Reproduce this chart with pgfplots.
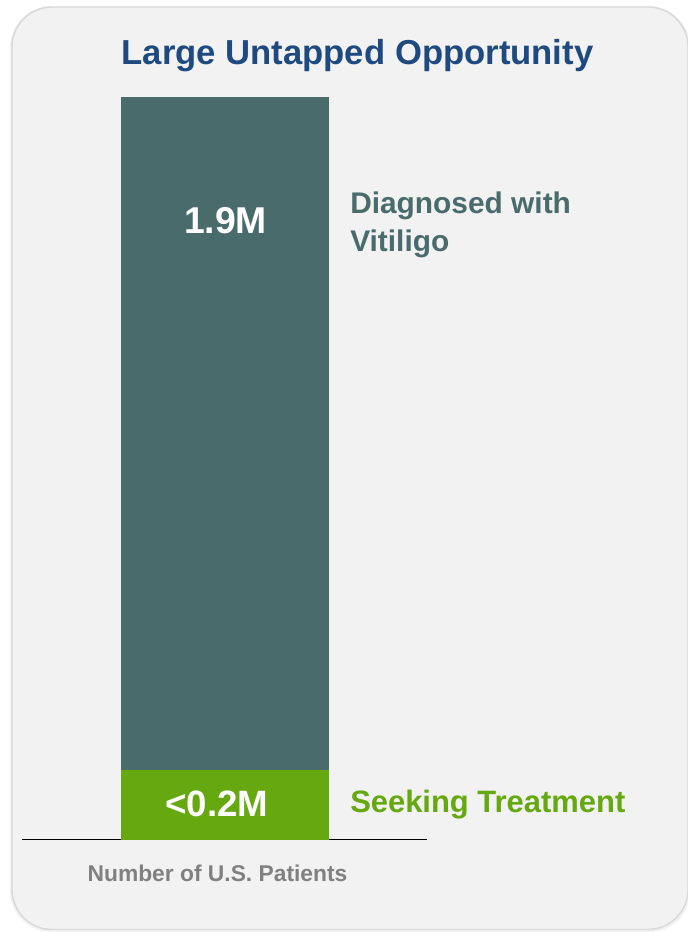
\documentclass[border=0pt]{standalone}
\usepackage{pgfplots}
\pgfplotsset{compat=1.18}
\usepackage{fontspec}
\setmainfont{Liberation Sans}
\definecolor{panel}{HTML}{F2F2F2}
\definecolor{panelline}{HTML}{D9D9D9}
\definecolor{teal}{HTML}{4A6B6C}
\definecolor{leaf}{HTML}{66A80F}
\definecolor{titleblue}{HTML}{1F4A80}
\definecolor{note}{HTML}{808080}
\begin{document}
\begin{tikzpicture}
\fill[white] (0,0) rectangle (515.25pt,699pt);
% panel, in pixel units of the reference (y down)
\begin{scope}[x=0.75pt, y=-0.75pt, shift={(0pt,699pt)}]
  \draw[black!5, line width=2.5pt, rounded corners=30] (11.5,8) rectangle (689,930.5);
  \draw[panelline, fill=panel, line width=1.1pt, rounded corners=30] (12,7) rectangle (688,929.5);
\end{scope}

\begin{axis}[
    at={(16.5pt,69pt)}, anchor=south west,
    width=303.75pt, height=557.25pt, scale only axis,
    xmin=0, xmax=1, ymin=0, ymax=1.9,
    axis x line=bottom, axis y line=none,
    x axis line style={-, black, line width=0.75pt},
    xtick=\empty, ytick=\empty,
    ybar stacked, bar width=156pt,
  ]
  \addplot[fill=leaf, draw=none] coordinates {(0.5,0.18)};
  \addplot[fill=teal, draw=none] coordinates {(0.5,1.72)};
\end{axis}

\begin{scope}[x=0.75pt, y=-0.75pt, shift={(0pt,699pt)}, inner sep=0pt]
  \node[anchor=base, font=\fontsize{26}{30}\selectfont\bfseries, text=titleblue] at (357.5,65) {Large Untapped Opportunity};
  \node[anchor=base, font=\fontsize{28}{32}\selectfont\bfseries, text=white] at (225.5,234) {1.9M};
  \node[anchor=base, font=\fontsize{27.5}{32}\selectfont\bfseries, text=white] at (217,817) {<0.2M};
  \node[anchor=base west, font=\fontsize{22.4}{26}\selectfont\bfseries, text=teal] at (350,214) {Diagnosed with};
  \node[anchor=base west, font=\fontsize{22.4}{26}\selectfont\bfseries, text=teal] at (350,252) {Vitiligo};
  \node[anchor=base west, font=\fontsize{23.2}{26}\selectfont\bfseries, text=leaf] at (350,813) {Seeking Treatment};
  \node[anchor=base, font=\fontsize{17.1}{20}\selectfont\bfseries, text=note] at (217.5,882) {Number of U.S. Patients};
\end{scope}
\pgfresetboundingbox
\path[use as bounding box] (0,0) rectangle (515.25pt,699pt);
\end{tikzpicture}
\end{document}
